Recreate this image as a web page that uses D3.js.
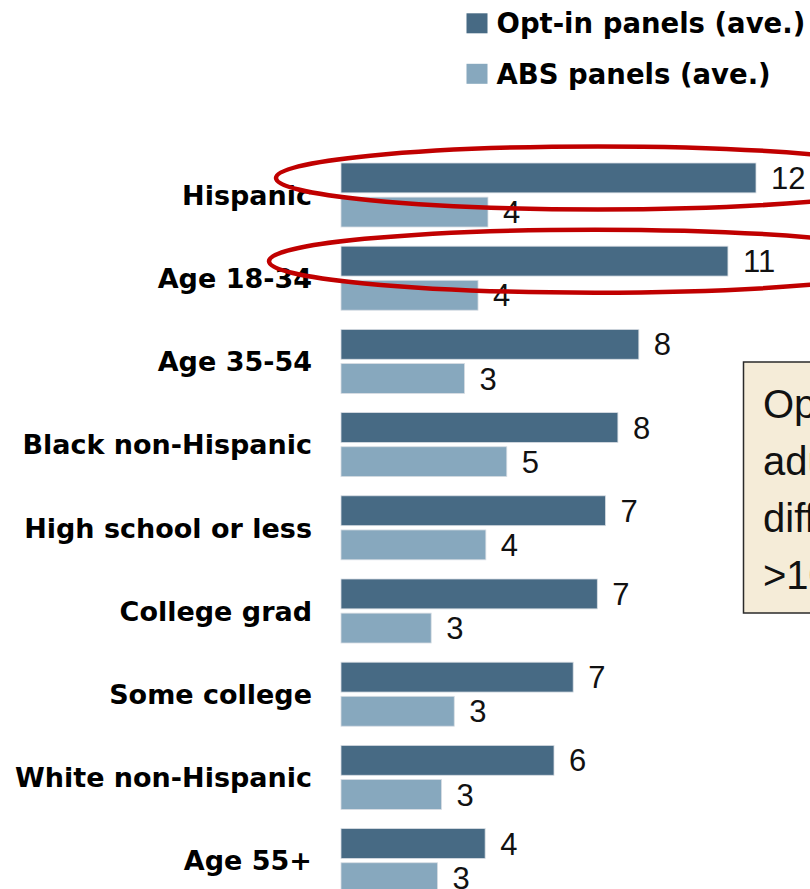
<!DOCTYPE html>
<html>
<head>
<meta charset="utf-8">
<script src="https://cdn.jsdelivr.net/npm/d3@7"></script>
<style>
  html, body { margin: 0; padding: 0; background: #ffffff; overflow: hidden; }
  svg { display: block; }
</style>
</head>
<body>
<svg id="chart" width="810" height="889"></svg>
<script>
// ---- data ----
const categories = ["Hispanic", "Age 18-34", "Age 35-54", "Black non-Hispanic",
  "High school or less", "College grad", "Some college", "White non-Hispanic", "Age 55+"];
const series = ["Opt-in panels (ave.)", "ABS panels (ave.)"];
const optInValues = [11.69, 10.9, 8.39, 7.8, 7.45, 7.22, 6.54, 6.0, 4.06];
const absValues = [4.14, 3.86, 3.48, 4.67, 4.08, 2.54, 3.19, 2.83, 2.72];
const highlighted = ["Hispanic", "Age 18-34"];
const noteLines = ["Opt-in panels' error", "adults groups", "differ by", ">10 points"];

// ---- style ----
const colors = { "Opt-in panels (ave.)": "#476a84", "ABS panels (ave.)": "#87a8be" };
const svg = d3.select("#chart");

const x = d3.scaleLinear().domain([0, 13]).range([341, 802.5]);
const y0 = d3.scaleBand().domain(categories).range([146.5, 146.5 + 83.2 * categories.length]);
const y1 = d3.scaleBand().domain(series).range([16.5, 80.5]).paddingInner(0.125);

const rows = categories.map((c, i) => ({
  cat: c,
  vals: [
    { s: series[0], v: optInValues[i] },
    { s: series[1], v: absValues[i] }
  ]
}));

// annotation box (behind)
const box = svg.append("g");
box.append("rect")
  .attr("x", 743.5).attr("y", 362).attr("width", 200).attr("height", 251)
  .attr("fill", "#f5ecd8").attr("stroke", "#2a2a2a").attr("stroke-width", 1.5);
box.selectAll("text").data(noteLines).join("text")
  .attr("x", 763).attr("y", (d, i) => 418 + i * 57)
  .attr("font-family", "'Liberation Sans', Arial, sans-serif")
  .attr("font-size", 40).attr("fill", "#111")
  .text(d => d);

// bars
const g = svg.append("g");
const groups = g.selectAll("g.row").data(rows).join("g")
  .attr("class", "row")
  .attr("transform", d => `translate(0,${y0(d.cat)})`);

groups.selectAll("rect").data(d => d.vals).join("rect")
  .attr("x", x(0))
  .attr("y", d => y1(d.s))
  .attr("width", d => x(d.v) - x(0))
  .attr("height", y1.bandwidth())
  .attr("fill", d => colors[d.s])
  .attr("stroke", "#d7dde3").attr("stroke-width", 0.8);

groups.selectAll("text.val").data(d => d.vals).join("text")
  .attr("class", "val")
  .attr("x", d => x(d.v) + 15)
  .attr("y", d => y1(d.s) + y1.bandwidth() / 2)
  .attr("dy", "0.36em")
  .attr("font-family", "'Liberation Sans', Arial, sans-serif")
  .attr("font-size", 31).attr("fill", "#111")
  .text(d => Math.round(d.v));

// category labels
groups.append("text")
  .attr("x", 312)
  .attr("y", (y1.range()[0] + y1.range()[1]) / 2)
  .attr("dy", "0.36em")
  .attr("text-anchor", "end")
  .attr("font-family", "'DejaVu Sans', sans-serif")
  .attr("font-weight", "bold")
  .attr("font-size", 27).attr("fill", "#000")
  .text(d => d.cat);

// highlight ellipses
const ellCx = [598, 595], ellRx = [322, 326];
svg.append("g").selectAll("ellipse").data(highlighted).join("ellipse")
  .attr("cx", (d, i) => ellCx[i])
  .attr("cy", d => y0(d) + y1("Opt-in panels (ave.)") + y1.bandwidth() / 2)
  .attr("rx", (d, i) => ellRx[i])
  .attr("ry", 31.5)
  .attr("fill", "none")
  .attr("stroke", "#c00000")
  .attr("stroke-width", 4.5);

// legend
const legend = svg.append("g").selectAll("g").data(series).join("g")
  .attr("transform", (d, i) => `translate(466.5,${13.3 + i * 50.5})`);
legend.append("rect")
  .attr("width", 21).attr("height", 20)
  .attr("fill", d => colors[d]);
legend.append("text")
  .attr("x", 30).attr("y", 20)
  .attr("font-family", "'DejaVu Sans', sans-serif")
  .attr("font-weight", "bold")
  .attr("font-size", 27.5).attr("fill", "#000")
  .text(d => d);
</script>
</body>
</html>
